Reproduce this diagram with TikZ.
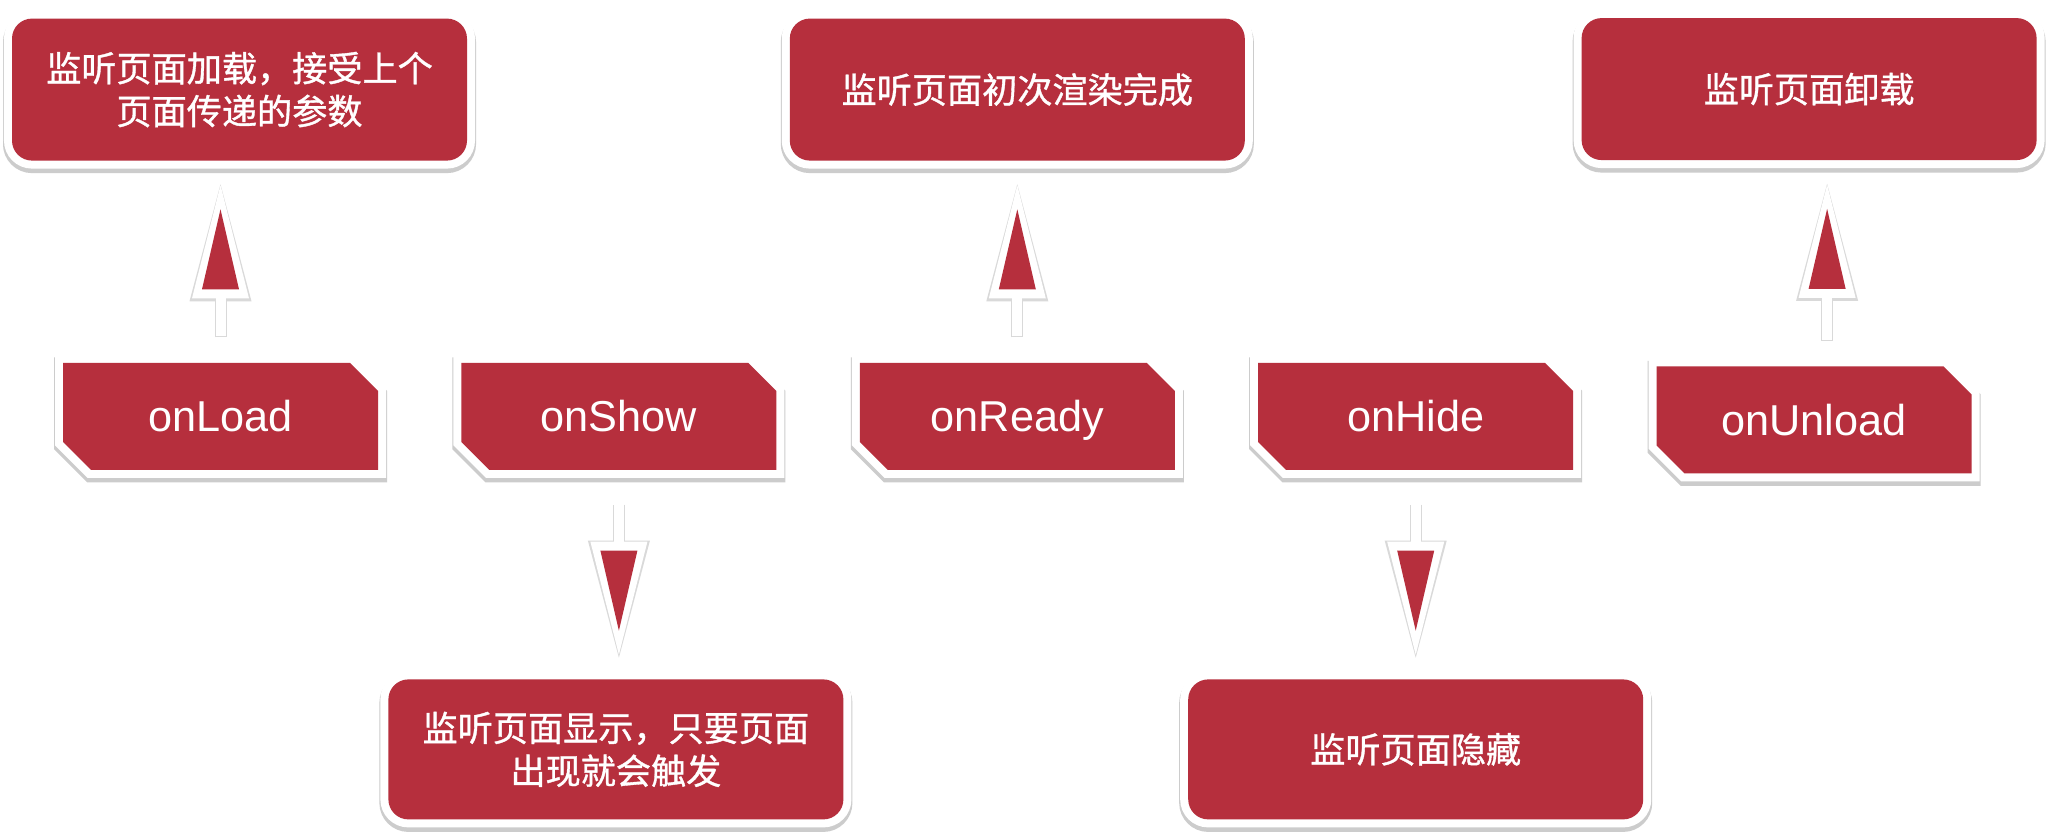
\documentclass[tikz,border=0pt]{standalone}
\usepackage{fontspec}
\newfontfamily\cjk{Noto Sans CJK SC}[FakeBold=1]
\newfontfamily\lat{Liberation Sans}
\usetikzlibrary{positioning, arrows.meta, shapes.misc}
\definecolor{lcred}{RGB}{182,47,61}

\begin{document}
\begin{tikzpicture}[
    node distance=0.82cm,
    lift/.style={preaction={draw=black!20, line width=0.18cm, transform canvas={yshift=-0.035cm}},
                 preaction={draw=white, line width=0.16cm}},
    note/.style={lift, fill=lcred, text=white, rounded corners=0.2cm, minimum width=4.55cm, minimum height=1.42cm, align=center, font=\cjk\fontsize{10pt}{12.2pt}\selectfont},
    hook/.style={lift, fill=lcred, text=white, chamfered rectangle, chamfered rectangle corners={north east, south west}, chamfered rectangle xsep=0.14cm, chamfered rectangle ysep=0.14cm, minimum width=3.15cm, minimum height=1.07cm, text height=0.34cm, text depth=0.03cm, font=\lat\fontsize{12.3pt}{14pt}\selectfont},
    flow/.style={draw=white, line width=1pt, -{Triangle[length=0.8cm, width=0.37cm, line width=0pt, color=lcred]}, shorten >=0.48cm,
        preaction={draw=black!15, line width=0.12cm, -{Triangle[length=1.17cm, width=0.62cm, line width=0pt, color=black!15]}, shorten >=0.22cm, transform canvas={yshift=-0.01cm}},
        preaction={draw=white, line width=0.1cm, -{Triangle[length=1.13cm, width=0.57cm, line width=0pt, color=white]}, shorten >=0.24cm}}
]
\fill[white] (0,0) rectangle (20.48,-8.32);
\useasboundingbox (0,0) rectangle (20.48,-8.32);

\node[hook] (onload) at (2.205,-4.165) {onLoad};
\node[hook, right=of onload] (onshow) {onShow};
\node[hook, right=of onshow] (onready) {onReady};
\node[hook, right=of onready] (onhide) {onHide};
\node[hook, right=of onhide, yshift=-0.035cm] (onunload) {onUnload};

\node[note, above=2.01cm of onload, xshift=0.19cm] (loadtxt) {监听页面加载，接受上个\\页面传递的参数};
\node[note, above=2.01cm of onready] (readytxt) {监听页面初次渲染完成};
\node[note, above=2.05cm of onunload, xshift=-0.05cm] (unloadtxt) {监听页面卸载};
\node[note, below=2.08cm of onshow, xshift=-0.03cm, minimum height=1.4cm] (showtxt) {监听页面显示，只要页面\\出现就会触发};
\node[note, below=2.08cm of onhide, minimum height=1.4cm] (hidetxt) {监听页面隐藏};

\draw[flow, shorten <=0.26cm] (onload.north) -- (onload.north |- loadtxt.south);
\draw[flow, shorten <=0.26cm] (onready.north) -- (onready.north |- readytxt.south);
\draw[flow, shorten <=0.26cm] ([xshift=0.13cm]onunload.north) -- ([xshift=0.13cm]onunload.north |- unloadtxt.south);
\draw[flow, shorten <=0.33cm] (onshow.south) -- (onshow.south |- showtxt.north);
\draw[flow, shorten <=0.33cm] (onhide.south) -- (onhide.south |- hidetxt.north);

\end{tikzpicture}
\end{document}
